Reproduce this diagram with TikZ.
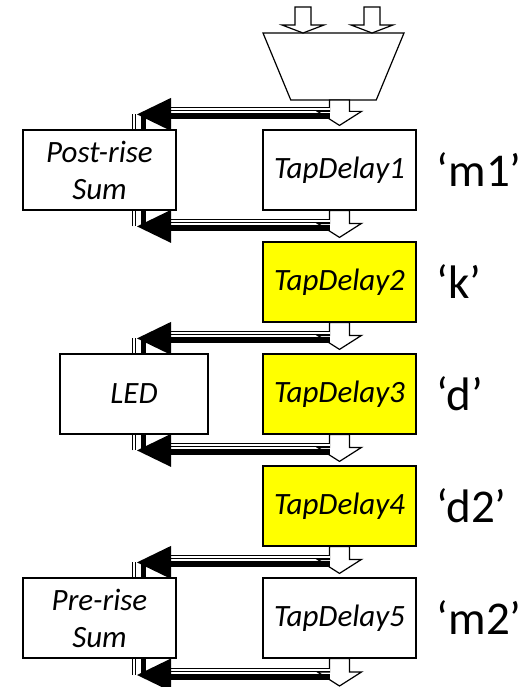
\documentclass[tikz,border=0pt]{standalone}
\usepackage{fontspec}
\setmainfont{Carlito}
\usetikzlibrary{calc,positioning,shapes.geometric}
\definecolor{tapyellow}{RGB}{255,255,0}

% hollow block arrow from a start point down to a node's top edge
\newcommand{\flowarrow}[2]{%
  \draw[flowarr] ($(#1)+(-10,0)$) -- ($(#2)+(-10,-18)$) -- ($(#2)+(-22,-18)$)
    -- ($(#2)+(0,-4)$) -- ($(#2)+(22,-18)$) -- ($(#2)+(10,-18)$) -- ($(#1)+(10,0)$) -- cycle;}
% small hollow arrow feeding the mux
\newcommand{\feedarrow}[2]{%
  \draw[flowarr] ($(#1)+(-8,0)$) -- ($(#2)+(-8,-8)$) -- ($(#2)+(-21,-8)$)
    -- (#2) -- ($(#2)+(21,-8)$) -- ($(#2)+(8,-8)$) -- ($(#1)+(8,0)$) -- cycle;}
% bus from a tap on the chain to a side box (#3 = north/south edge)
\newcommand{\tapbus}[3]{%
  \draw[busthick] (#1) -- ($(lane |- #1)+(20,0)$);
  \draw[busline] ($(#1)+(0,-7)$) -- ($(lane |- #1)+(34,-7)$);
  \draw[busthick, line width=5pt] ($(lane |- #1)+(6,-2)$) -- ($(lane |- #2.#3)+(6,0)$);
  \draw[busline] ($(lane |- #1)+(-3,-2)$) -- ($(lane |- #2.#3)+(-3,0)$);
  \fill ($(lane |- #1)+(0,-2)$) -- ($(lane |- #1)+(34,-18.5)$) -- ($(lane |- #1)+(34,14.5)$) -- cycle;}

\begin{document}
\begin{tikzpicture}[x=1pt, y=-1pt,
    every node/.style={inner sep=0pt},
    tapbox/.style={draw, line width=1.2pt, fill=white, minimum width=153pt, minimum height=80pt,
      align=center, font=\fontsize{31}{37}\selectfont\itshape},
    hotbox/.style={tapbox, fill=tapyellow},
    sidebox/.style={tapbox},
    tag/.style={font=\fontsize{47}{50}\selectfont},
    mux/.style={draw, line width=1.2pt, trapezium, trapezium angle=72, shape border rotate=180,
      trapezium stretches=true, minimum width=141pt, minimum height=67pt, inner sep=2pt},
    flowarr/.style={draw, line width=1.2pt, fill=white},
    busthick/.style={line width=6pt},
    busline/.style={double=white, double distance=2pt, line width=1pt}
]
\useasboundingbox (0,0) rectangle (529,687);

% Mux and its two inputs
\node[mux] (mux) at (333.5,66.5) {};
\coordinate (muxtop) at ($(mux.center)+(0,-33.5)$);
\coordinate (inA) at (303,7);
\coordinate (inB) at (372,7);
\feedarrow{inA}{inA |- muxtop}
\feedarrow{inB}{inB |- muxtop}

% Tap-delay chain
\node[tapbox] (d1) at (339.5,170) {TapDelay1};
\node[hotbox] (d2) at (339.5,282) {TapDelay2};
\node[hotbox] (d3) at (339.5,394) {TapDelay3};
\node[hotbox] (d4) at (339.5,506) {TapDelay4};
\node[tapbox] (d5) at (339.5,618) {TapDelay5};
\coordinate (muxout) at ($(mux.center -| d1.north)+(0,33.5)$);
\coordinate (sink) at (339.5,690);

% Labels
\node[tag, right=20pt of d1] (m1) {‘m1’};
\node[tag, right=20pt of d2] (k)  {‘k’};
\node[tag, right=20pt of d3] (d)  {‘d’};
\node[tag, right=20pt of d4] (dd) {‘d2’};
\node[tag, right=20pt of d5] (m2) {‘m2’};

% Side blocks
\node[sidebox] (post) at (99.5,170) {Post-rise\\Sum};
\node[sidebox, minimum width=148pt] (led) at (134,394) {LED};
\node[sidebox] (pre) at (99.5,618) {Pre-rise\\Sum};

% Chain arrows
\flowarrow{muxout}{d1.north}
\flowarrow{d1.south}{d2.north}
\flowarrow{d2.south}{d3.north}
\flowarrow{d3.south}{d4.north}
\flowarrow{d4.south}{d5.north}
\flowarrow{d5.south}{sink}

% Taps
\coordinate (lane) at (137,0);
\coordinate (tap0) at ($(d1.north)+(-10,-13)$);
\coordinate (tap1) at ($(d2.north)+(-10,-13)$);
\coordinate (tap2) at ($(d3.north)+(-10,-13)$);
\coordinate (tap3) at ($(d4.north)+(-10,-13)$);
\coordinate (tap4) at ($(d5.north)+(-10,-13)$);
\coordinate (tap5) at ($(sink)+(-10,-13)$);

% Buses to the side blocks
\tapbus{tap0}{post}{north}
\tapbus{tap1}{post}{south}
\tapbus{tap2}{led}{north}
\tapbus{tap3}{led}{south}
\tapbus{tap4}{pre}{north}
\tapbus{tap5}{pre}{south}
\end{tikzpicture}
\end{document}
